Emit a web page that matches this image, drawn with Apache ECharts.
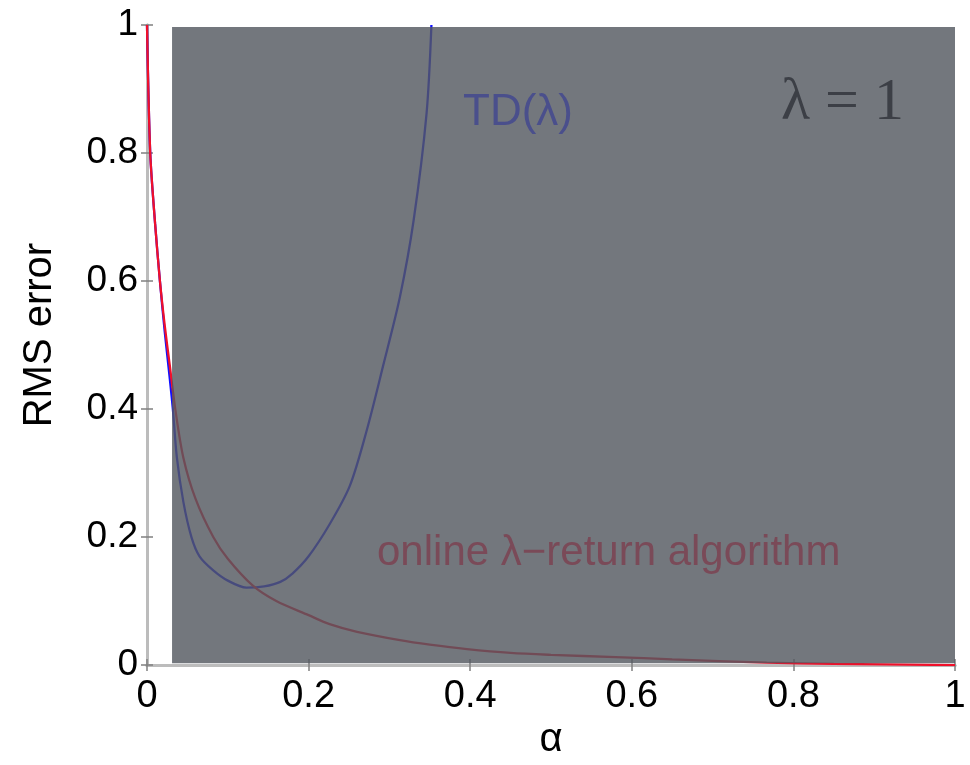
<!DOCTYPE html>
<html>
<head>
<meta charset="utf-8">
<script src="https://cdn.jsdelivr.net/npm/echarts@6/dist/echarts.min.js"></script>
<style>
html,body{margin:0;padding:0;background:#fff;overflow:hidden;}
#c{width:970px;height:765px;}
</style>
</head>
<body>
<div id="c"></div>
<script>
// alpha values and RMS error for TD(lambda)
var alphaTD = [0, 0.004, 0.01, 0.016, 0.022, 0.028, 0.032, 0.037, 0.045, 0.055, 0.065, 0.082, 0.1, 0.123, 0.145, 0.165, 0.18, 0.2, 0.226, 0.251, 0.272, 0.2925, 0.313, 0.33, 0.346, 0.352];
var rmsTD   = [1.0, 0.8, 0.69, 0.6, 0.52, 0.45, 0.40, 0.324, 0.255, 0.2, 0.17, 0.148, 0.132, 0.121, 0.123, 0.13, 0.143, 0.17, 0.22, 0.28, 0.367, 0.469, 0.575, 0.695, 0.862, 1.0];
// alpha values and RMS error for online lambda-return algorithm
var alphaOL = [0, 0.004, 0.01, 0.016, 0.022, 0.028, 0.035, 0.045, 0.06, 0.082, 0.1, 0.131, 0.16, 0.2, 0.226, 0.26, 0.313, 0.35, 0.396, 0.45, 0.5, 0.58, 0.65, 0.767, 0.85, 1.0];
var rmsOL   = [1.0, 0.8, 0.69, 0.6, 0.53, 0.47, 0.40, 0.324, 0.26, 0.2, 0.166, 0.124, 0.1, 0.078, 0.064, 0.052, 0.039, 0.032, 0.025, 0.019, 0.016, 0.0125, 0.009, 0.004, 0.002, 0.0];
// shaded region (alpha range)
var shadeX = [0.031, 1];
var shadeY = [0.003, 0.997];
var xTicks = [0, 0.2, 0.4, 0.6, 0.8, 1];
var yTicks = [0, 0.2, 0.4, 0.6, 0.8, 1];
var labelTD = 'TD(λ)';
var labelOL = 'online λ−return algorithm';
var labelLambda = 'λ = 1';
var xName = 'α';
var yName = 'RMS error';

function pairs(xs, ys){ return xs.map(function(x,i){ return [x, ys[i]]; }); }

var chart = echarts.init(document.getElementById('c'), null, {renderer:'canvas'});
var sans = "'Liberation Sans', Arial, Helvetica, sans-serif";
var axisLine = {show:true, lineStyle:{color:'#bcbcbc', width:3}};
var axisTick = {show:true, inside:true, length:6, lineStyle:{color:'#808080', width:1.5}};

var option = {
  animation:false,
  backgroundColor:'#fff',
  grid:{left:147, right:15, top:25, bottom:97, containLabel:false},
  xAxis:[{
    type:'value', min:0, max:1, interval:0.2,
    name:xName, nameLocation:'middle', nameGap:54,
    nameTextStyle:{fontFamily:sans, fontSize:40, color:'#000'},
    axisLine:axisLine, axisTick:axisTick, splitLine:{show:false},
    axisLabel:{fontFamily:sans, fontSize:38, color:'#000', margin:12,
      formatter:function(v){ return xTicks.indexOf(+v.toFixed(1))>=0 ? String(+v.toFixed(1)) : ''; }}
  },{
    type:'value', min:0, max:1, interval:0.2, position:'top',
    axisLine:axisLine, axisTick:axisTick, splitLine:{show:false}, axisLabel:{show:false}
  }],
  yAxis:[{
    type:'value', min:0, max:1, interval:0.2,
    name:yName, nameLocation:'middle', nameGap:87, nameRotate:90,
    nameTextStyle:{fontFamily:sans, fontSize:40, color:'#000', padding:[0,0,0,20]},
    axisLine:axisLine, axisTick:axisTick, splitLine:{show:false},
    axisLabel:{fontFamily:sans, fontSize:37, color:'#000', margin:9,
      formatter:function(v){ return yTicks.indexOf(+v.toFixed(1))>=0 ? String(+v.toFixed(1)) : ''; }}
  },{
    type:'value', min:0, max:1, interval:0.2, position:'right',
    axisLine:axisLine, axisTick:axisTick, splitLine:{show:false}, axisLabel:{show:false}
  }],
  series:[
    {type:'line', name:labelTD, data:pairs(alphaTD, rmsTD), showSymbol:false, symbol:'none',
     smooth:0.3, clip:true, z:3,
     lineStyle:{color:'#1010ff', width:2.3}},
    {type:'line', name:labelOL, data:pairs(alphaOL, rmsOL), showSymbol:false, symbol:'none',
     smooth:0.3, clip:true, z:4,
     lineStyle:{color:'#f0102a', width:2.3}},
    {type:'line', name:'shade', data:[], z:10, silent:true,
     markArea:{silent:true, z:10, itemStyle:{color:'rgba(84,89,96,0.82)'},
       data:[[{xAxis:shadeX[0], yAxis:shadeY[0]},{xAxis:shadeX[1], yAxis:shadeY[1]}]]}}
  ],
  graphic:[
    {type:'text', z:100, left:463, top:91, style:{text:labelTD, font:"44px 'Liberation Sans', Arial, sans-serif", fill:'#4a4f8c'}},
    {type:'text', z:100, left:377, top:532, style:{text:labelOL, font:"42px 'Liberation Sans', Arial, sans-serif", fill:'#7a4a58'}},
    {type:'text', z:100, left:781, top:73, style:{text:labelLambda, font:"60px 'Liberation Serif', 'Times New Roman', serif", fill:'#3c3f46'}}
  ]
};
chart.setOption(option);
</script>
</body>
</html>
